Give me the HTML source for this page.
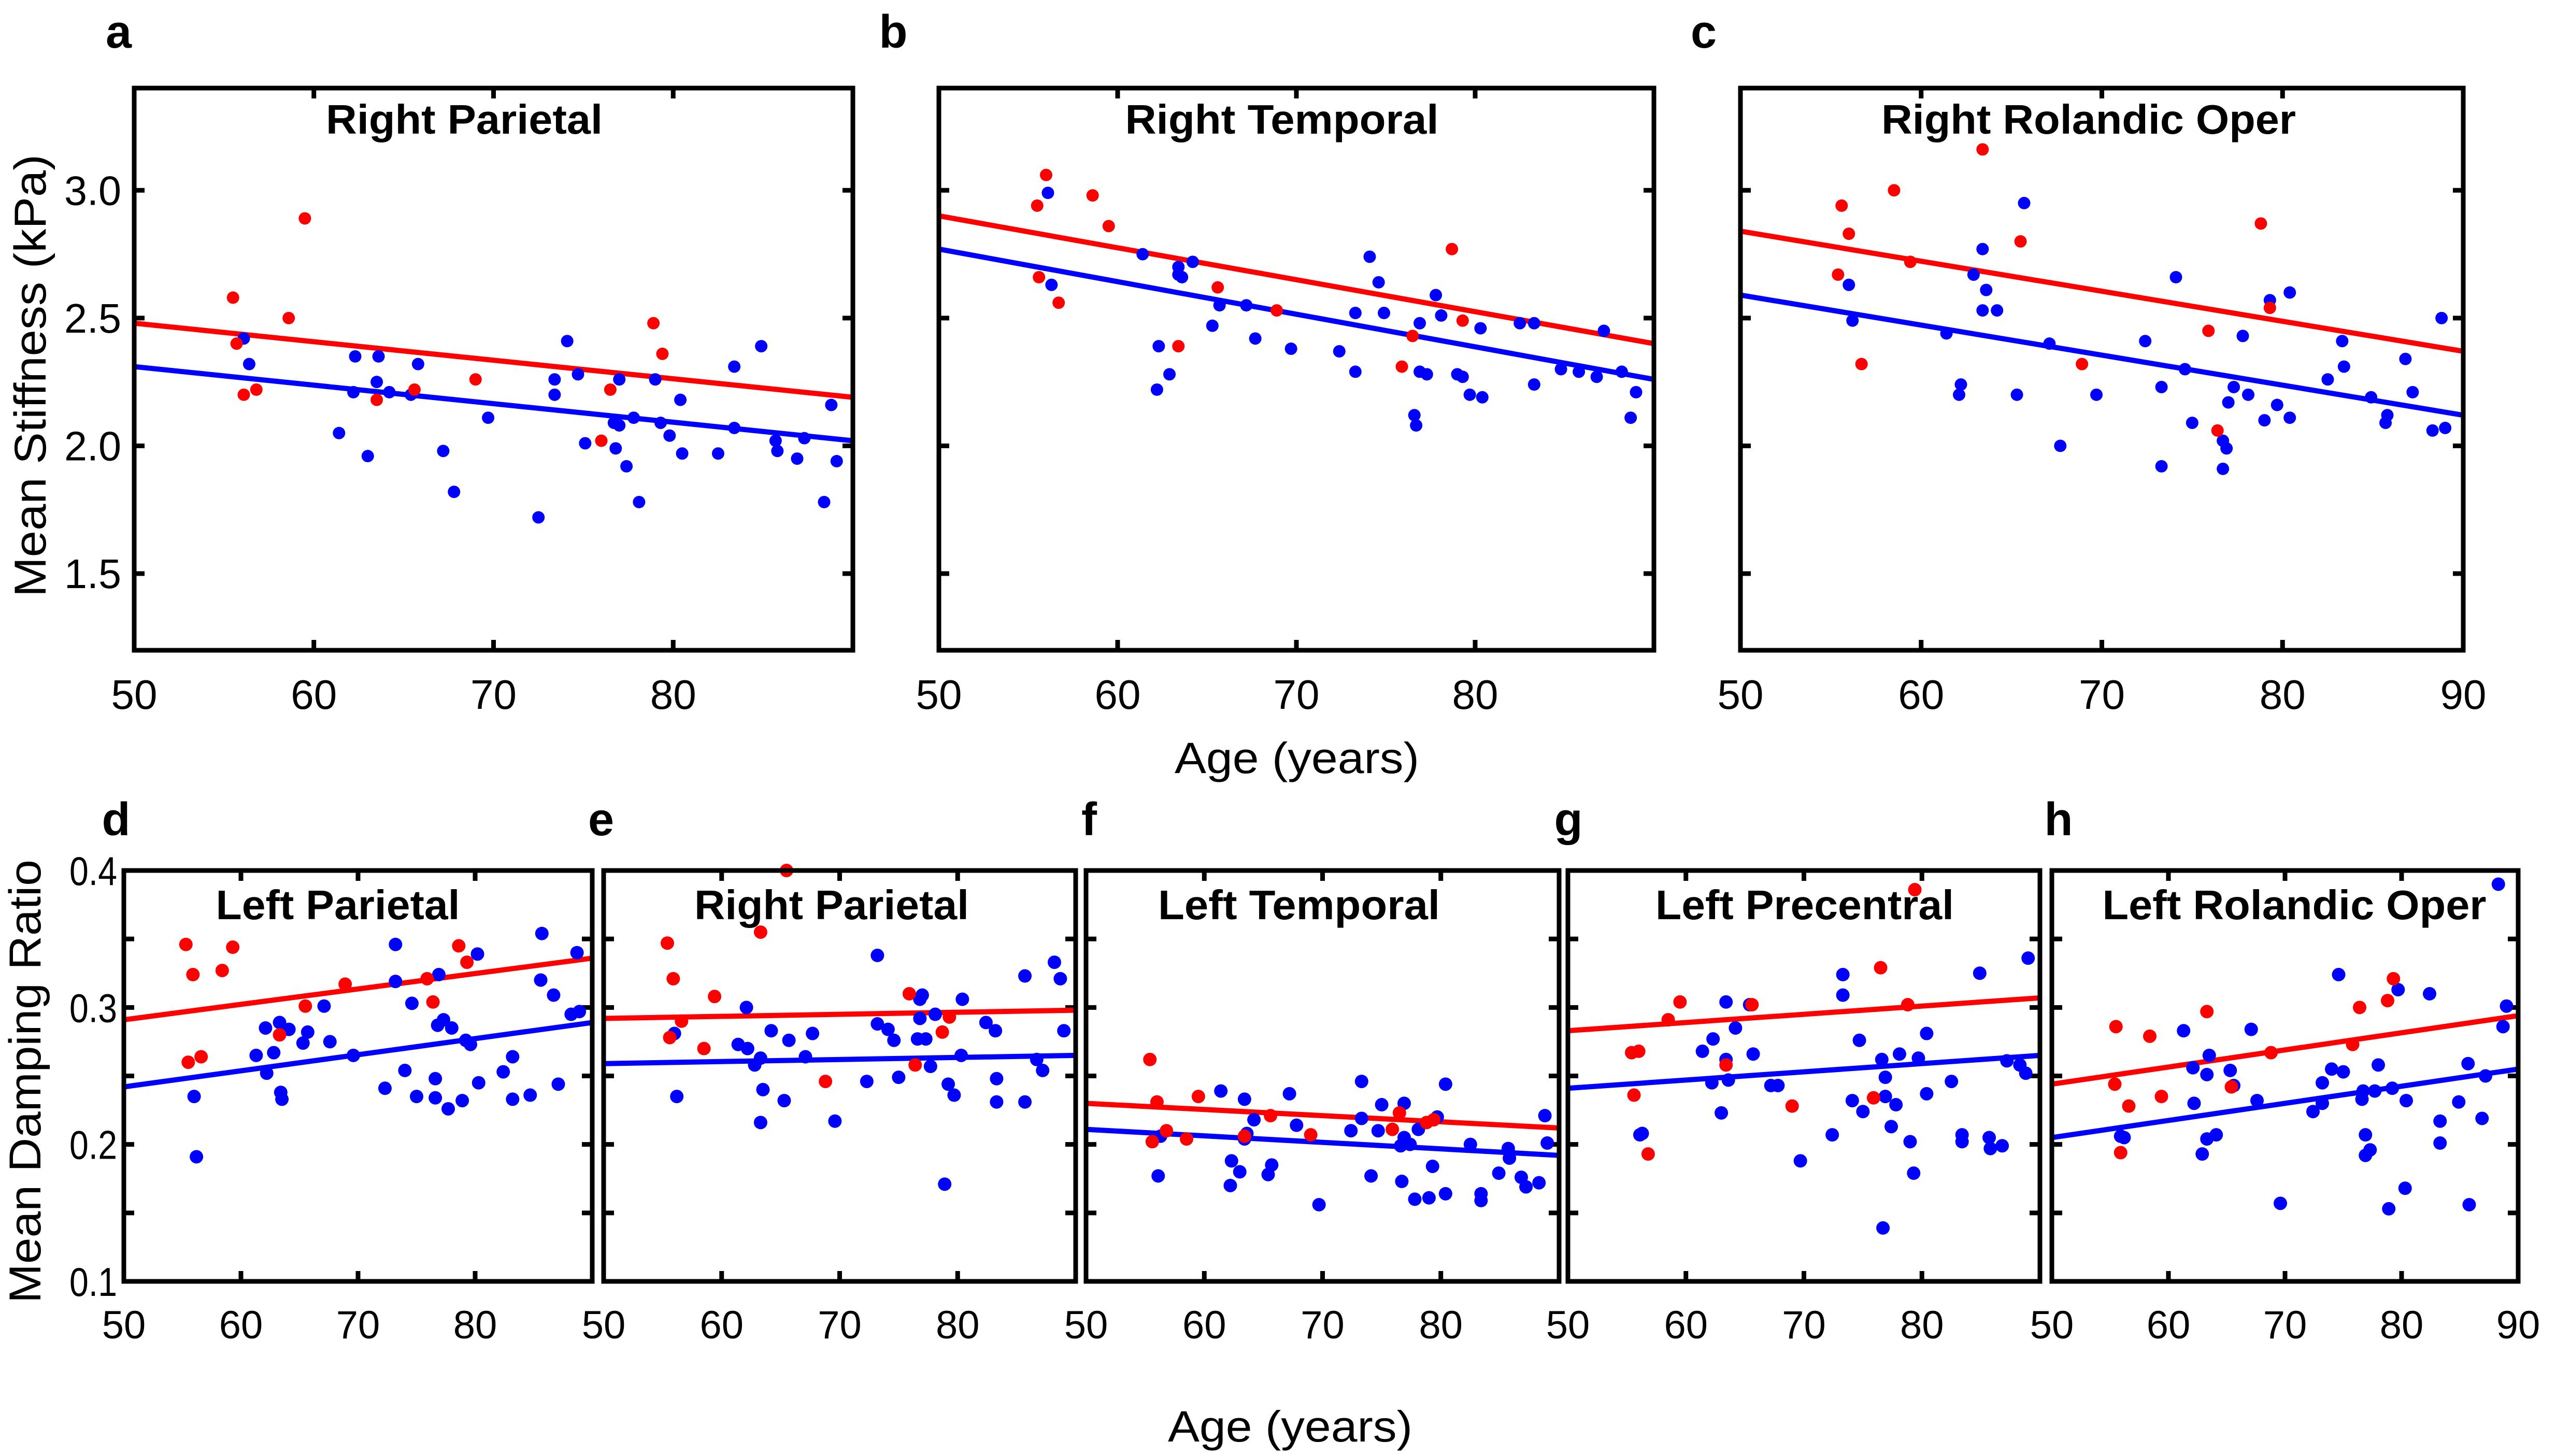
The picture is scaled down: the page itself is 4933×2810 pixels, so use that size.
<!DOCTYPE html>
<html><head><meta charset="utf-8"><style>
html,body{margin:0;padding:0;background:#fff;}
svg{display:block;font-family:"Liberation Sans",Arial,sans-serif;}
</style></head><body>
<svg id="fig" width="4933" height="2810" viewBox="0 0 4933 2810" xmlns="http://www.w3.org/2000/svg"></svg>
<script>
// ---- data (age, value) ----
const aRedAge=[55.5,55.7,56.1,56.8,58.6,59.5,63.5,65.6,69.0,76.0,76.5,78.9,79.4];
const aRedVal=[2.58,2.40,2.20,2.22,2.50,2.89,2.18,2.22,2.26,2.02,2.22,2.48,2.36];
const aBlueAge=[56.1,56.4,61.4,62.3,62.2,63.0,63.5,63.6,64.2,65.4,65.8,67.2,67.8,69.7,72.5,73.4,73.4,74.1,74.7,75.1,76.8,76.7,77.0,77.0,77.4,77.8,78.1,79.0,79.3,79.8,80.4,80.5,82.5,83.4,83.4,84.9,85.7,85.8,86.9,87.3,88.4,88.8,89.1];
const aBlueVal=[2.42,2.32,2.05,2.35,2.21,1.96,2.25,2.35,2.21,2.20,2.32,1.98,1.82,2.11,1.72,2.26,2.20,2.41,2.28,2.01,1.99,2.09,2.08,2.26,1.92,2.11,1.78,2.26,2.09,2.04,2.18,1.97,1.97,2.31,2.07,2.39,2.02,1.98,1.95,2.03,1.78,2.16,1.94];
const aRedFit=[2.48,2.19];
const aBlueFit=[2.31,2.02];

const bRedAge=[56.0,55.5,58.6,59.5,55.6,56.7,63.4,65.6,68.9,76.5,75.9,78.7,79.3];
const bRedVal=[3.06,2.94,2.98,2.86,2.66,2.56,2.39,2.62,2.53,2.43,2.31,2.77,2.49];
const bBlueAge=[56.1,56.3,61.4,62.3,62.2,62.9,63.4,63.4,63.6,64.2,65.3,65.7,67.2,67.7,69.7,72.4,73.3,73.3,74.1,74.6,74.9,76.6,76.7,76.9,76.9,77.3,77.8,78.1,79.0,79.3,79.7,80.4,80.3,82.5,83.3,83.3,84.8,85.8,86.8,87.2,88.2,88.7,89.0];
const bBlueVal=[2.99,2.63,2.75,2.39,2.22,2.28,2.70,2.67,2.66,2.72,2.47,2.55,2.55,2.42,2.38,2.37,2.52,2.29,2.74,2.64,2.52,2.12,2.08,2.48,2.29,2.28,2.59,2.51,2.28,2.27,2.20,2.19,2.46,2.48,2.48,2.24,2.30,2.29,2.27,2.45,2.29,2.11,2.21];
const bRedFit=[2.90,2.40];
const bBlueFit=[2.77,2.26];

const cRedAge=[55.6,56.0,55.4,58.5,59.4,63.4,65.5,56.7,68.9,75.9,76.4,78.8,79.3];
const cRedVal=[2.94,2.83,2.67,3.00,2.72,3.16,2.80,2.32,2.32,2.45,2.06,2.87,2.54];
const cBlueAge=[56.0,56.2,61.4,62.2,62.1,62.9,63.4,63.6,63.4,64.2,65.7,65.3,67.1,67.7,69.7,72.4,73.3,73.3,74.1,74.6,75.0,76.7,76.9,76.7,77.0,77.3,77.8,78.1,79.0,79.3,79.7,80.4,80.4,82.5,83.3,83.4,84.9,85.8,85.7,86.8,87.2,88.3,88.8,89.0];
const cBlueVal=[2.63,2.49,2.44,2.24,2.20,2.67,2.77,2.61,2.53,2.53,2.95,2.20,2.40,2.00,2.20,2.41,2.23,1.92,2.66,2.30,2.09,2.02,1.99,1.91,2.17,2.23,2.43,2.20,2.10,2.57,2.16,2.60,2.11,2.26,2.41,2.31,2.19,2.12,2.09,2.34,2.21,2.06,2.50,2.07];
const cRedFit=[2.84,2.37];
const cBlueFit=[2.59,2.12];

const dRedAge=[55.3,55.9,58.4,59.3,55.5,56.6,63.3,65.5,68.9,75.9,76.4,78.6,79.3];
const dRedVal=[0.346,0.324,0.327,0.344,0.260,0.264,0.280,0.301,0.317,0.321,0.304,0.345,0.333];
const dBlueAge=[56.0,56.2,61.3,62.1,62.2,62.8,63.3,63.4,63.5,64.1,65.3,65.7,67.1,67.6,69.6,72.3,73.2,73.2,74.0,74.6,75.0,76.6,76.6,76.8,76.9,77.3,77.7,78.0,78.9,79.2,79.6,80.2,80.3,82.4,83.2,83.2,84.7,85.6,85.7,86.7,87.1,88.2,88.7,88.9];
const dBlueVal=[0.235,0.191,0.265,0.285,0.252,0.267,0.289,0.238,0.233,0.284,0.274,0.282,0.301,0.275,0.265,0.241,0.346,0.319,0.254,0.303,0.235,0.248,0.234,0.287,0.324,0.291,0.226,0.285,0.232,0.276,0.273,0.339,0.245,0.253,0.264,0.233,0.236,0.320,0.354,0.309,0.244,0.295,0.340,0.297];
const dRedFit=[0.291,0.336];
const dBlueFit=[0.242,0.289];

const eRedAge=[55.4,55.9,56.6,55.6,59.4,58.5,63.3,65.5,68.8,75.9,76.4,78.7,79.3];
const eRedVal=[0.347,0.321,0.290,0.278,0.308,0.270,0.355,0.400,0.246,0.310,0.258,0.282,0.293];
const eBlueAge=[56.0,56.2,61.4,62.1,62.2,62.8,63.3,63.5,63.3,64.2,65.3,65.7,67.1,67.7,69.6,72.3,73.2,73.2,74.1,74.6,75.0,76.6,76.8,77.0,76.8,77.3,77.7,78.1,78.9,79.2,79.7,80.3,80.4,82.4,83.2,83.3,83.3,85.7,85.7,86.7,87.2,88.2,88.7,89.0];
const eBlueVal=[0.281,0.235,0.273,0.300,0.270,0.258,0.263,0.240,0.216,0.283,0.232,0.276,0.264,0.281,0.217,0.246,0.338,0.288,0.284,0.276,0.249,0.277,0.306,0.309,0.292,0.277,0.257,0.295,0.171,0.244,0.236,0.265,0.306,0.289,0.283,0.248,0.231,0.231,0.323,0.262,0.254,0.333,0.321,0.283];
const eRedFit=[0.292,0.298];
const eBlueFit=[0.259,0.265];

const fRedAge=[55.4,56.0,56.8,55.6,58.5,59.5,63.4,65.6,69.0,75.9,76.5,78.8,79.4];
const fRedVal=[0.262,0.231,0.210,0.202,0.204,0.235,0.206,0.221,0.207,0.211,0.223,0.216,0.218];
const fBlueAge=[56.1,56.3,61.4,62.3,62.2,63.0,63.4,63.6,63.4,64.2,65.4,65.7,67.2,67.8,69.7,72.4,73.3,73.3,74.1,74.7,75.0,76.6,76.7,76.9,76.9,77.4,77.8,78.1,79.0,79.3,79.7,80.4,80.4,82.5,83.4,83.4,84.9,85.7,85.8,86.8,87.2,88.3,88.8,89.0];
const fBlueVal=[0.177,0.206,0.239,0.188,0.170,0.180,0.233,0.208,0.204,0.218,0.178,0.185,0.237,0.214,0.156,0.210,0.246,0.219,0.177,0.210,0.229,0.199,0.173,0.230,0.205,0.200,0.160,0.211,0.161,0.184,0.220,0.244,0.164,0.200,0.164,0.159,0.179,0.197,0.190,0.176,0.169,0.172,0.221,0.201];
const fRedFit=[0.230,0.212];
const fBlueFit=[0.211,0.192];

const gRedAge=[55.4,56.0,55.6,56.8,58.5,59.5,63.4,65.6,69.0,75.9,76.5,78.8,79.4];
const gRedVal=[0.267,0.268,0.236,0.193,0.291,0.304,0.258,0.302,0.228,0.234,0.329,0.302,0.386];
const gBlueAge=[56.1,56.3,61.4,62.3,62.2,63.0,63.4,63.4,63.6,64.2,65.4,65.7,67.2,67.8,69.7,72.4,73.3,73.3,74.1,74.7,75.0,76.6,76.7,76.9,76.9,77.4,77.8,78.1,79.0,79.3,79.7,80.4,80.4,82.5,83.4,83.4,84.9,85.7,85.8,86.8,87.2,88.3,88.8,89.0];
const gBlueVal=[0.207,0.208,0.268,0.277,0.245,0.223,0.304,0.262,0.247,0.285,0.302,0.266,0.243,0.243,0.188,0.207,0.324,0.309,0.232,0.276,0.224,0.262,0.139,0.249,0.235,0.213,0.229,0.266,0.202,0.179,0.263,0.281,0.237,0.246,0.207,0.202,0.325,0.205,0.197,0.199,0.261,0.258,0.252,0.336];
const gRedFit=[0.283,0.307];
const gBlueFit=[0.241,0.265];

const hRedAge=[55.5,55.4,56.6,55.9,58.4,59.4,63.3,65.4,68.8,75.8,76.4,78.8,79.3];
const hRedVal=[0.286,0.244,0.228,0.194,0.279,0.235,0.297,0.242,0.267,0.273,0.300,0.305,0.321];
const hBlueAge=[55.9,56.2,61.3,62.1,62.2,62.9,63.3,63.5,63.3,64.1,65.3,65.6,67.1,67.6,69.6,72.4,73.2,73.2,74.0,74.6,75.0,76.7,76.6,76.9,77.3,76.9,77.7,78.0,78.9,79.2,79.7,80.3,80.4,82.4,83.3,83.3,84.9,85.7,85.8,86.9,87.2,88.3,88.7,89.0];
const hBlueVal=[0.206,0.205,0.283,0.256,0.230,0.193,0.204,0.265,0.251,0.207,0.254,0.243,0.284,0.232,0.157,0.224,0.245,0.230,0.255,0.324,0.253,0.239,0.233,0.207,0.196,0.192,0.239,0.258,0.153,0.241,0.313,0.168,0.232,0.310,0.217,0.201,0.231,0.259,0.156,0.219,0.250,0.390,0.286,0.301];
const hRedFit=[0.244,0.294];
const hBlueFit=[0.205,0.255];

const xTicksTop=[50,60,70,80,90];
const yTicksTop=[1.5,2.0,2.5,3.0];
const yTickLabelsTop=["1.5","2.0","2.5","3.0"];
const yTicksBot=[0.15,0.2,0.25,0.3,0.35];
const yLabelValsBot=[0.1,0.2,0.3,0.4];
const yTickLabelsBot=["0.1","0.2","0.3","0.4"];

// ---- layout ----
const NS="http://www.w3.org/2000/svg";
const svg=document.getElementById('fig');
function mk(tag,attrs,parent){const e=document.createElementNS(NS,tag);for(const k in attrs)e.setAttribute(k,attrs[k]);(parent||svg).appendChild(e);return e;}

const panels=[
 {id:'a',x0:259,x1:1646,y0:170,y1:1255,lo:1.2,hi:3.4,title:'Right Parietal',tx:896,tw:534,lx:229,ly:92,xl:[50,60,70,80],yl:true,top:true,ra:aRedAge,rv:aRedVal,ba:aBlueAge,bv:aBlueVal,rf:aRedFit,bf:aBlueFit},
 {id:'b',x0:1812,x1:3192,y0:170,y1:1255,lo:1.2,hi:3.4,title:'Right Temporal',tx:2474,tw:605,lx:1724,ly:92,xl:[50,60,70,80],yl:false,top:true,ra:bRedAge,rv:bRedVal,ba:bBlueAge,bv:bBlueVal,rf:bRedFit,bf:bBlueFit},
 {id:'c',x0:3359,x1:4754,y0:170,y1:1255,lo:1.2,hi:3.4,title:'Right Rolandic Oper',tx:4031,tw:800,lx:3288,ly:92,xl:[50,60,70,80,90],yl:false,top:true,ra:cRedAge,rv:cRedVal,ba:cBlueAge,bv:cBlueVal,rf:cRedFit,bf:cBlueFit},
 {id:'d',x0:239,x1:1143,y0:1680,y1:2473,lo:0.1,hi:0.4,title:'Left Parietal',tx:652,tw:471,lx:224,ly:1612,xl:[50,60,70,80],yl:true,top:false,ra:dRedAge,rv:dRedVal,ba:dBlueAge,bv:dBlueVal,rf:dRedFit,bf:dBlueFit},
 {id:'e',x0:1165,x1:2076,y0:1680,y1:2473,lo:0.1,hi:0.4,title:'Right Parietal',tx:1605,tw:530,lx:1160,ly:1612,xl:[50,60,70,80],yl:false,top:false,ra:eRedAge,rv:eRedVal,ba:eBlueAge,bv:eBlueVal,rf:eRedFit,bf:eBlueFit},
 {id:'f',x0:2096,x1:3009,y0:1680,y1:2473,lo:0.1,hi:0.4,title:'Left Temporal',tx:2507,tw:544,lx:2102,ly:1612,xl:[50,60,70,80],yl:false,top:false,ra:fRedAge,rv:fRedVal,ba:fBlueAge,bv:fBlueVal,rf:fRedFit,bf:fBlueFit},
 {id:'g',x0:3026,x1:3937,y0:1680,y1:2473,lo:0.1,hi:0.4,title:'Left Precentral',tx:3483,tw:576,lx:3027,ly:1612,xl:[50,60,70,80],yl:false,top:false,ra:gRedAge,rv:gRedVal,ba:gBlueAge,bv:gBlueVal,rf:gRedFit,bf:gBlueFit},
 {id:'h',x0:3960,x1:4860,y0:1680,y1:2473,lo:0.1,hi:0.4,title:'Left Rolandic Oper',tx:4428,tw:741,lx:3973,ly:1612,xl:[50,60,70,80,90],yl:false,top:false,ra:hRedAge,rv:hRedVal,ba:hBlueAge,bv:hBlueVal,rf:hRedFit,bf:hBlueFit}
];

panels.forEach(p=>{
  const g=mk('g',{});
  
  
  const X=a=>p.x0+(a-50)/40*(p.x1-p.x0);
  const Y=v=>p.y1-(v-p.lo)/(p.hi-p.lo)*(p.y1-p.y0);
  const L=mk('text',{x:p.lx,y:p.ly,'font-size':90,'font-weight':'bold','text-anchor':'middle'},g);
  L.textContent=p.id;
  
  
  const T=mk('text',{x:p.tx,y:p.top?258:1774,'font-size':80,'font-weight':'bold','text-anchor':'middle',textLength:p.tw,lengthAdjust:'spacingAndGlyphs'},g);
  T.textContent=p.title;
  
  
  const tl=20;
  [60,70,80].forEach(t=>{
    const tk=mk('path',{d:`M${X(t)},${p.y1}v${-tl}M${X(t)},${p.y0}v${tl}`,stroke:'#000','stroke-width':9},g);
    
    
  });
  const yt=p.top?yTicksTop:yTicksBot;
  yt.forEach(t=>{
    const tk=mk('path',{d:`M${p.x0},${Y(t)}h${tl}M${p.x1},${Y(t)}h${-tl}`,stroke:'#000','stroke-width':9},g);
    
    
  });
  p.xl.forEach(t=>{
    const xt=mk('text',{x:X(t),y:p.top?1368:2583,'font-size':p.top?80:76,'text-anchor':'middle'},g);
    xt.textContent=String(t);
    
    
  });
  if(p.yl){
    const vals=p.top?yTicksTop:yLabelValsBot;
    const labs=p.top?yTickLabelsTop:yTickLabelsBot;
    vals.forEach((t,i)=>{
      const yl=mk('text',{x:p.top?234:226,y:Y(t)+28,'font-size':p.top?80:78,'text-anchor':'end',textLength:p.top?110:92,lengthAdjust:'spacingAndGlyphs'},g);
      yl.textContent=labs[i];
      
      
    });
  }
  const rl=mk('line',{x1:X(50),y1:Y(p.rf[0]),x2:X(90),y2:Y(p.rf[1]),stroke:'#ff0000','stroke-width':10},g);
  
  
  const bl=mk('line',{x1:X(50),y1:Y(p.bf[0]),x2:X(90),y2:Y(p.bf[1]),stroke:'#0000ff','stroke-width':10},g);
  
  
  const r=p.top?12:13;
  p.ba.forEach((a,i)=>{
    const c=mk('circle',{cx:X(a),cy:Y(p.bv[i]),r:r,fill:'#0000ff'},g);
    
    
  });
  p.ra.forEach((a,i)=>{
    const c=mk('circle',{cx:X(a),cy:Y(p.rv[i]),r:r,fill:'#ff0000'},g);
    
    
  });
  const fr=mk('rect',{x:p.x0,y:p.y0,width:p.x1-p.x0,height:p.y1-p.y0,fill:'none',stroke:'#000','stroke-width':9},g);
  
  
});

const yt1=mk('text',{x:0,y:0,'font-size':86,'text-anchor':'middle',transform:'translate(88,725) rotate(-90)',textLength:854,lengthAdjust:'spacingAndGlyphs'});
yt1.textContent='Mean Stiffness (kPa)';


const yt2=mk('text',{x:0,y:0,'font-size':86,'text-anchor':'middle',transform:'translate(78,2087) rotate(-90)',textLength:856,lengthAdjust:'spacingAndGlyphs'});
yt2.textContent='Mean Damping Ratio';


const xt1=mk('text',{x:2503,y:1492,'font-size':84,'text-anchor':'middle',textLength:472,lengthAdjust:'spacingAndGlyphs'});
xt1.textContent='Age (years)';


const xt2=mk('text',{x:2490,y:2782,'font-size':84,'text-anchor':'middle',textLength:472,lengthAdjust:'spacingAndGlyphs'});
xt2.textContent='Age (years)';


</script>
</body></html>
